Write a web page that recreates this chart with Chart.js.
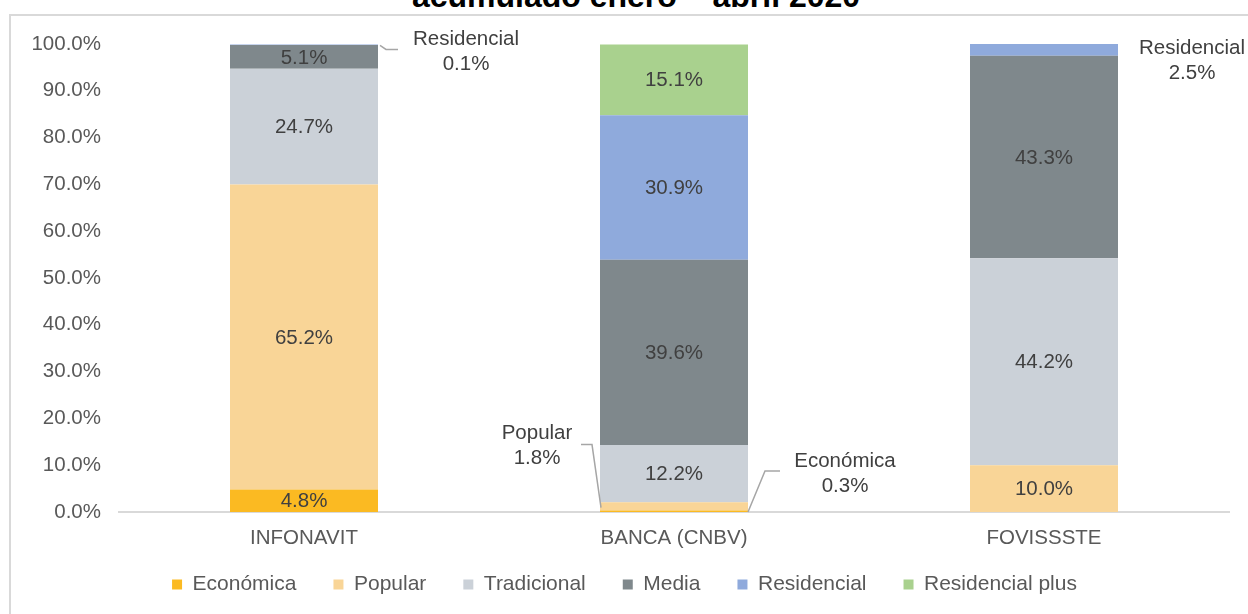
<!DOCTYPE html>
<html>
<head>
<meta charset="utf-8">
<script src="https://cdn.jsdelivr.net/npm/chart.js@4/dist/chart.umd.min.js"></script>
<style>
  body { margin: 0; background: #fff; }
  #wrap { position: relative; width: 1248px; height: 614px; overflow: hidden; }
  #frame { position: absolute; left: 9px; top: 14px; width: 1260px; height: 640px; border: 2px solid #d9d9d9; }
  #title { position: absolute; left: 0; width: 1272px; top: -22px; text-align: center;
           font: bold 32px "Liberation Sans", Arial, sans-serif; color: #000; white-space: nowrap; }
  #mychart { position: absolute; left: 0; top: 0; }
</style>
</head>
<body>
<div id="wrap">
  <div id="frame"></div>
  <div id="title">acumulado enero – abril 2020</div>
  <canvas id="mychart" width="1248" height="614"></canvas>
</div>
<script>
// -------- data --------------------
const categories = ['INFONAVIT', 'BANCA (CNBV)', 'FOVISSSTE'];
const economica      = [4.8, 0.3, 0];
const popular        = [65.2, 1.8, 10.0];
const tradicional    = [24.7, 12.2, 44.2];
const media          = [5.1, 39.6, 43.3];
const residencial    = [0.1, 30.9, 2.5];
const residencialPlus = [0, 15.1, 0];
const yTicks = [0, 10, 20, 30, 40, 50, 60, 70, 80, 90, 100];

const FONT = '"Liberation Sans", Arial, sans-serif';
const FSIZE = 20.5;
const TXT = '#404040';
const AXIS_TXT = '#595959';

// small segments get a callout instead of an inside label
// (offsets are relative to the bar edges, in px)
const callouts = [
  { ds: 4, idx: 0, name: 'Residencial', side: 'right', ref: 'top', tx: 88, ty: -5,
    line: [[2, 1], [8, 5], [20, 5]] },
  { ds: 1, idx: 1, name: 'Popular', side: 'left', ref: 'base', tx: -63, ty: -77,
    line: [[1, -3], [-8, -66], [-19, -66]] },
  { ds: 0, idx: 1, name: 'Económica', side: 'right', ref: 'base', tx: 97, ty: -51,
    line: [[0, 0], [17, -41], [32, -41]] },
  { ds: 4, idx: 2, name: 'Residencial', side: 'right', ref: 'top', tx: 74, ty: 4,
    line: null }
];

const labelPlugin = {
  id: 'barLabels',
  afterDatasetsDraw(chart) {
    const ctx = chart.ctx;
    ctx.save();
    ctx.font = FSIZE + 'px ' + FONT;
    ctx.fillStyle = TXT;
    ctx.textAlign = 'center';
    ctx.textBaseline = 'middle';
    chart.data.datasets.forEach((ds, i) => {
      const meta = chart.getDatasetMeta(i);
      meta.data.forEach((bar, j) => {
        const v = ds.data[j];
        if (v < 4) return;
        ctx.fillText(v.toFixed(1) + '%', bar.x, (bar.y + bar.base) / 2 + 1);
      });
    });
    callouts.forEach(c => {
      const bar = chart.getDatasetMeta(c.ds).data[c.idx];
      const half = bar.width / 2;
      const ex = c.side === 'right' ? bar.x + half : bar.x - half;
      const ey = c.ref === 'top' ? bar.y : bar.base;
      const v = chart.data.datasets[c.ds].data[c.idx];
      ctx.fillStyle = TXT;
      ctx.fillText(c.name, ex + c.tx, ey + c.ty);
      ctx.fillText(v.toFixed(1) + '%', ex + c.tx, ey + c.ty + 25);
      if (c.line) {
        ctx.strokeStyle = '#a6a6a6';
        ctx.lineWidth = 1.5;
        ctx.beginPath();
        c.line.forEach((p, k) => {
          if (k === 0) ctx.moveTo(ex + p[0], ey + p[1]);
          else ctx.lineTo(ex + p[0], ey + p[1]);
        });
        ctx.stroke();
      }
    });
    // category labels under the axis (drawn here so they are not clipped)
    const xs = chart.scales.x;
    ctx.fillStyle = AXIS_TXT;
    categories.forEach((c, i) => {
      ctx.fillText(c, xs.getPixelForTick(i), xs.top + 26);
    });
    ctx.restore();
  }
};

const mkSet = (label, data, color) => ({
  label: label,
  data: data,
  backgroundColor: color,
  borderWidth: 0,
  barPercentage: 0.4,
  categoryPercentage: 1.0
});

const config = {
  type: 'bar',
  data: {
    labels: categories,
    datasets: [
      mkSet('Económica', economica, '#fbba22'),
      mkSet('Popular', popular, '#f9d597'),
      mkSet('Tradicional', tradicional, '#cbd1d8'),
      mkSet('Media', media, '#7f888c'),
      mkSet('Residencial', residencial, '#8faadc'),
      mkSet('Residencial plus', residencialPlus, '#a9d18e')
    ]
  },
  options: {
    responsive: false,
    animation: false,
    layout: { padding: { top: 44, left: 20, right: 19, bottom: 9 } },
    plugins: {
      legend: {
        position: 'bottom',
        labels: {
          boxWidth: 10,
          boxHeight: 10,
          padding: 37,
          color: AXIS_TXT,
          font: { family: FONT, size: 21 }
        }
      },
      tooltip: { enabled: false }
    },
    scales: {
      x: {
        stacked: true,
        grid: { display: false },
        border: { display: true, color: '#d9d9d9', width: 2 },
        ticks: { display: false },
        afterFit: s => { s.height = 25; }
      },
      y: {
        stacked: true,
        min: 0,
        max: 100,
        grid: { display: false },
        border: { display: false },
        afterBuildTicks: s => { s.ticks = yTicks.map(v => ({ value: v })); },
        ticks: {
          color: AXIS_TXT,
          padding: 10,
          font: { family: FONT, size: FSIZE },
          callback: v => v.toFixed(1) + '%'
        },
        afterFit: s => { s.width = 99; }
      }
    }
  },
  plugins: [labelPlugin]
};

//build chart
const mychart = document.getElementById('mychart');
const chart = new Chart(mychart, config);
</script>
</body>
</html>
